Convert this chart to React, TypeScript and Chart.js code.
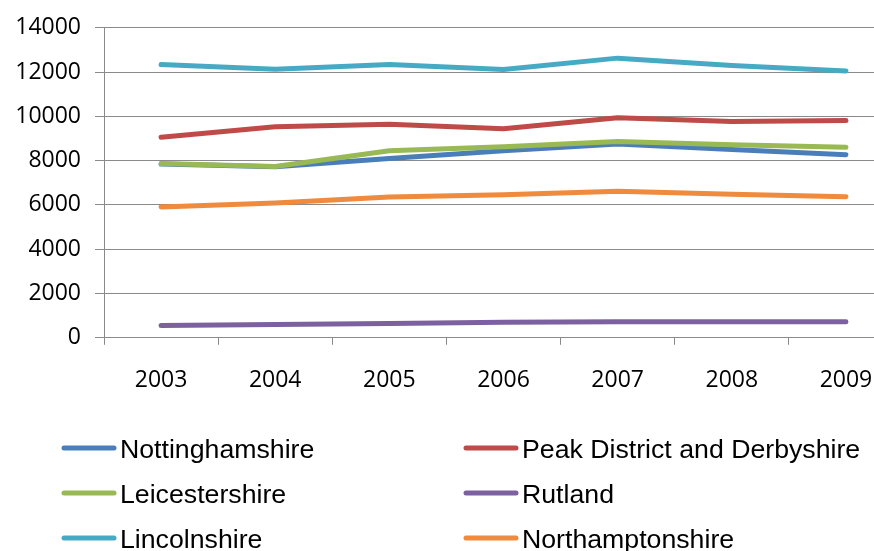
import React, { useEffect, useRef } from "react";
import { Chart, registerables } from "chart.js";

Chart.register(...registerables);

const years = ["2003", "2004", "2005", "2006", "2007", "2008", "2009"];

const nottinghamshire = [7850, 7730, 8100, 8450, 8750, 8500, 8270];
const peakDistrictDerbyshire = [9060, 9530, 9640, 9440, 9940, 9770, 9810];
const leicestershire = [7870, 7740, 8450, 8630, 8860, 8720, 8600];
const rutland = [550, 600, 650, 700, 720, 720, 730];
const lincolnshire = [12340, 12130, 12340, 12120, 12630, 12300, 12050];
const northamptonshire = [5910, 6090, 6360, 6460, 6620, 6480, 6370];

const seriesNames = [
  "Nottinghamshire",
  "Peak District and Derbyshire",
  "Leicestershire",
  "Rutland",
  "Lincolnshire",
  "Northamptonshire",
];
const seriesValues = [
  nottinghamshire,
  peakDistrictDerbyshire,
  leicestershire,
  rutland,
  lincolnshire,
  northamptonshire,
];
const seriesColors = ["#4A7EBB", "#BE4B48", "#98B954", "#7D60A0", "#46AAC5", "#F08A3C"];

const yTicks = [0, 2000, 4000, 6000, 8000, 10000, 12000, 14000];

const AXIS_FONT = { family: "'Open Sans', 'Noto Sans', sans-serif", size: 23 };
const GRID = "#8a8a8a";

// Two-column legend painted under the plot
const twoColumnLegend = {
  id: "twoColumnLegend",
  afterDraw(chart: any) {
    const ctx = chart.ctx;
    const colX = [62, 464];
    const rowY = [448, 493, 538];
    ctx.save();
    chart.data.datasets.forEach((ds: any, i: number) => {
      const x = colX[i % 2];
      const y = rowY[Math.floor(i / 2)];
      ctx.strokeStyle = ds.borderColor;
      ctx.lineWidth = 5;
      ctx.lineCap = "round";
      ctx.beginPath();
      ctx.moveTo(x + 2, y);
      ctx.lineTo(x + 52, y);
      ctx.stroke();
      ctx.fillStyle = "#000";
      ctx.font = "26.7px 'Liberation Sans', Arial, sans-serif";
      ctx.textAlign = "left";
      ctx.textBaseline = "alphabetic";
      ctx.fillText(ds.label, x + 58, y + 10.3);
    });
    ctx.restore();
  },
};

export default function App() {
  const canvasRef = useRef<HTMLCanvasElement>(null);

  useEffect(() => {
    const canvas = canvasRef.current;
    if (!canvas) return;
    const chart = new Chart(canvas, {
      type: "line",
      data: {
        labels: years,
        datasets: seriesNames.map((name, i) => ({
          label: name,
          data: seriesValues[i],
          borderColor: seriesColors[i],
          backgroundColor: seriesColors[i],
          borderWidth: 5,
          borderCapStyle: "round" as const,
          borderJoinStyle: "round" as const,
          pointRadius: 0,
          tension: 0,
          // later series are painted over earlier ones
          order: seriesNames.length - i,
        })),
      },
      options: {
        responsive: false,
        animation: false,
        events: [],
        layout: { padding: { top: 25.7, left: 0, right: 17, bottom: 182.2 } },
        plugins: {
          legend: { display: false },
          tooltip: { enabled: false },
        },
        scales: {
          x: {
            type: "category",
            offset: true,
            grid: {
              offset: true,
              drawOnChartArea: false,
              drawTicks: true,
              tickLength: 7,
              color: GRID,
            },
            border: { display: true, color: GRID },
            ticks: {
              font: AXIS_FONT,
              color: "#000",
              padding: 22,
              maxRotation: 0,
              autoSkip: false,
            },
            afterFit(scale: any) {
              scale.height = 70;
            },
          },
          y: {
            min: 0,
            max: 14000,
            afterBuildTicks(scale: any) {
              scale.ticks = yTicks.map((v) => ({ value: v }));
            },
            grid: { color: GRID, tickLength: 9, drawTicks: true },
            border: { display: true, color: GRID },
            ticks: {
              font: AXIS_FONT,
              color: "#000",
              padding: 14,
              callback: (v: any) => String(v),
            },
            afterFit(scale: any) {
              scale.width = 104;
            },
          },
        },
      },
      plugins: [twoColumnLegend],
    });
    return () => chart.destroy();
  }, []);

  return (
    <div
      style={{
        position: "fixed",
        left: 0,
        top: 0,
        width: 874,
        height: 551,
        overflow: "hidden",
        background: "#fff",
      }}
    >
      <canvas ref={canvasRef} width={920} height={590} style={{ display: "block" }} />
    </div>
  );
}
